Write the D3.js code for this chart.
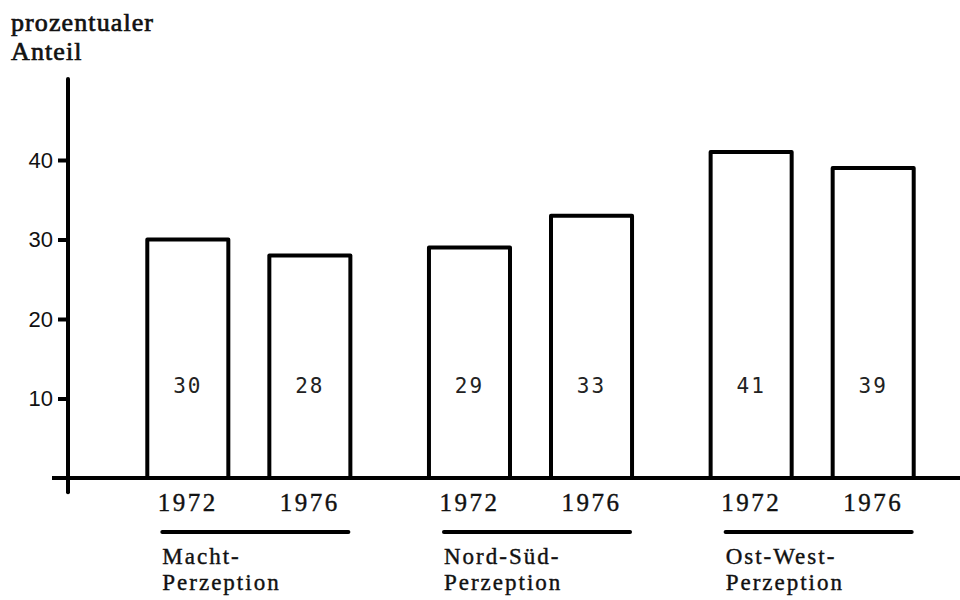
<!DOCTYPE html>
<html>
<head>
<meta charset="utf-8">
<script src="https://cdn.jsdelivr.net/npm/d3@7"></script>
<style>
  body { margin: 0; background: #fff; }
  svg { display: block; }
</style>
</head>
<body>
<svg id="chart" width="960" height="600"></svg>
<script>
// data
var groups = ['Macht', 'Nord-Süd', 'Ost-West'];
var groupLabels = [['Macht-', 'Perzeption'], ['Nord-Süd-', 'Perzeption'], ['Ost-West-', 'Perzeption']];
var years = ['1972', '1976'];
var values1972 = [30, 29, 41];
var values1976 = [28, 33, 39];
var yTicks = [10, 20, 30, 40];

var svg = d3.select('#chart');

var y = d3.scaleLinear().domain([0, 40]).range([478, 160]);

var x = d3.scaleBand().domain(groups).range([108, 953]).paddingInner(0).paddingOuter(0);
var xInner = d3.scaleBand().domain(years).range([0, x.bandwidth()]).paddingInner(0.336).paddingOuter(0.322);

var rows = [];
groups.forEach(function (g, i) {
  rows.push({ group: g, year: '1972', value: values1972[i] });
  rows.push({ group: g, year: '1976', value: values1976[i] });
});

var serif = '"Liberation Serif", "Times New Roman", serif';

// title
var title = svg.append('text')
  .attr('font-family', serif)
  .attr('font-size', '26px')
  .attr('letter-spacing', '1.1px')
  .attr('fill', '#111')
  .attr('stroke', '#111')
  .attr('stroke-width', 0.7);
title.append('tspan').attr('x', 11).attr('y', 31).text('prozentualer');
title.append('tspan').attr('x', 11).attr('y', 60).text('Anteil');

// bars
svg.append('g').selectAll('rect')
  .data(rows)
  .join('rect')
  .attr('x', function (d) { return x(d.group) + xInner(d.year); })
  .attr('y', function (d) { return y(d.value); })
  .attr('width', xInner.bandwidth())
  .attr('height', function (d) { return y(0) - y(d.value); })
  .attr('fill', '#fff')
  .attr('stroke', '#000')
  .attr('stroke-width', 4)
  .attr('stroke-linejoin', 'round');

// value labels inside bars
svg.append('g').selectAll('text')
  .data(rows)
  .join('text')
  .attr('x', function (d) { return x(d.group) + xInner(d.year) + xInner.bandwidth() / 2; })
  .attr('y', 393)
  .attr('text-anchor', 'middle')
  .attr('font-family', '"DejaVu Sans Mono", monospace')
  .attr('font-size', '21px')
  .attr('letter-spacing', '2px')
  .attr('fill', '#222')
  .text(function (d) { return d.value; });

// year labels
svg.append('g').selectAll('text')
  .data(rows)
  .join('text')
  .attr('x', function (d) { return x(d.group) + xInner(d.year) + xInner.bandwidth() / 2; })
  .attr('y', 511)
  .attr('text-anchor', 'middle')
  .attr('font-family', serif)
  .attr('font-size', '25px')
  .attr('letter-spacing', '2.5px')
  .attr('fill', '#111')
  .attr('stroke', '#111')
  .attr('stroke-width', 0.4)
  .text(function (d) { return d.year; });

// group underline + label
var grp = svg.append('g').selectAll('g')
  .data(groups)
  .join('g');

grp.append('line')
  .attr('x1', function (d) { return x(d) + xInner('1972') + 15; })
  .attr('x2', function (d) { return x(d) + xInner('1976') + xInner.bandwidth() - 2; })
  .attr('y1', 532)
  .attr('y2', 532)
  .attr('stroke', '#000')
  .attr('stroke-width', 4)
  .attr('stroke-linecap', 'round');

grp.append('text')
  .attr('font-family', serif)
  .attr('font-size', '23px')
  .attr('letter-spacing', '2px')
  .attr('fill', '#111')
  .attr('stroke', '#111')
  .attr('stroke-width', 0.4)
  .each(function (d, i) {
    var t = d3.select(this);
    var lx = x(d) + xInner('1972') + 15;
    t.append('tspan').attr('x', lx).attr('y', 564).text(groupLabels[i][0]);
    t.append('tspan').attr('x', lx).attr('y', 590).text(groupLabels[i][1]);
  });

// y axis ticks
var yAxis = d3.axisLeft(y).tickValues(yTicks).tickSize(10).tickSizeOuter(0).tickPadding(5);
var axisG = svg.append('g')
  .attr('transform', 'translate(68,0)')
  .call(yAxis);
axisG.select('.domain').remove();
axisG.selectAll('.tick line').attr('stroke', '#000').attr('stroke-width', 4);
axisG.selectAll('.tick text')
  .attr('font-family', '"Liberation Sans", sans-serif')
  .attr('font-size', '22px')
  .attr('fill', '#111');

// axis lines
svg.append('line')
  .attr('x1', 68).attr('x2', 68)
  .attr('y1', y(50.2)).attr('y2', y(-1.8))
  .attr('stroke', '#000').attr('stroke-width', 4).attr('stroke-linecap', 'round');

svg.append('line')
  .attr('x1', 52).attr('x2', 960)
  .attr('y1', y(0)).attr('y2', y(0))
  .attr('stroke', '#000').attr('stroke-width', 4);
</script>
</body>
</html>
